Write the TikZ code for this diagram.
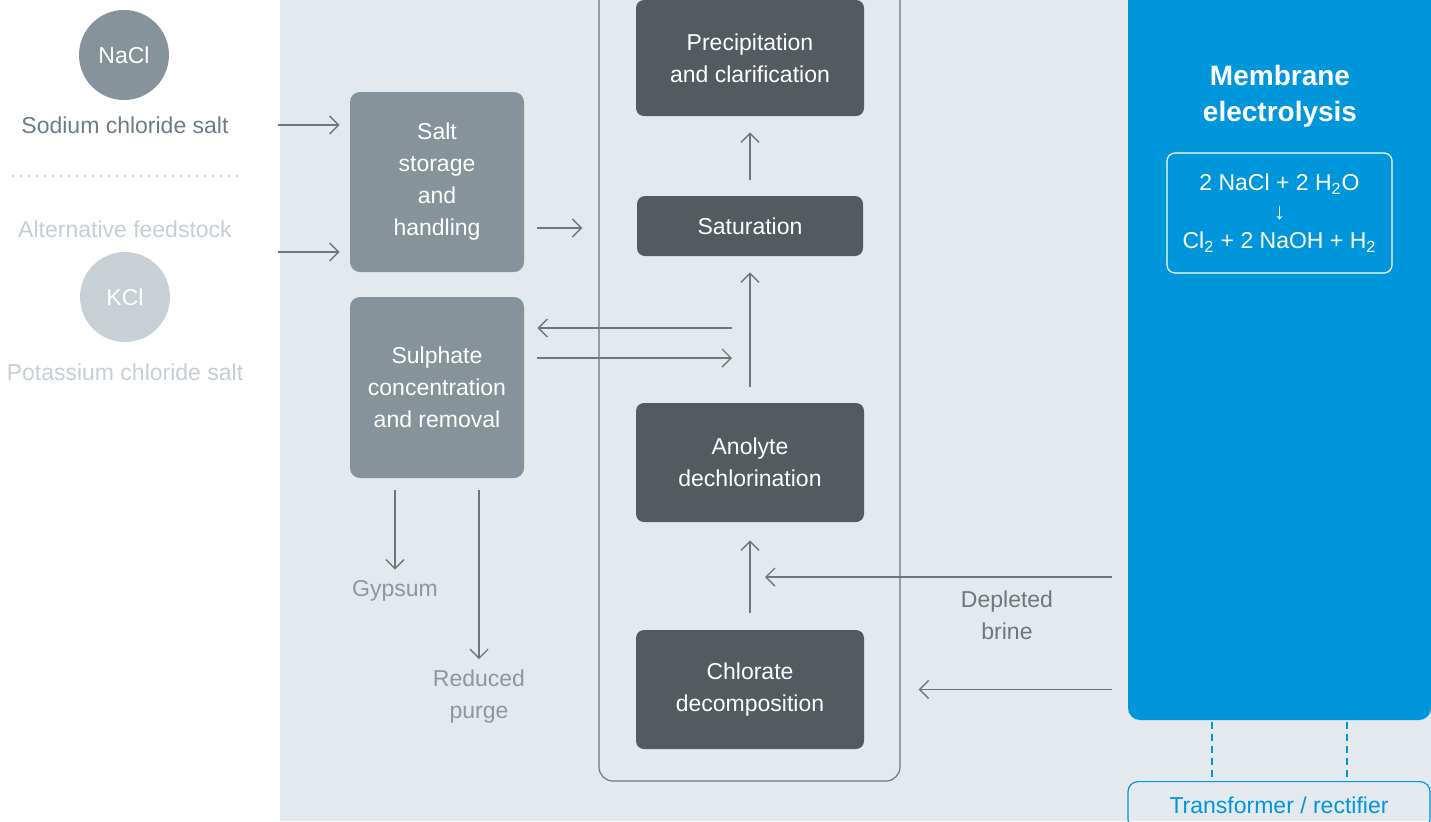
\documentclass[tikz,border=0pt]{standalone}
\usepackage{fontspec}
\setmainfont{Liberation Sans}
\usetikzlibrary{positioning,arrows.meta}

\definecolor{bggray}{HTML}{E4E9ED}
\definecolor{boxlight}{HTML}{87939A}
\definecolor{boxdark}{HTML}{535B61}
\definecolor{linegray}{HTML}{6D777D}
\definecolor{labgray}{HTML}{8C979E}
\definecolor{altgray}{HTML}{C6CED3}
\definecolor{kclgray}{HTML}{C8D0D6}
\definecolor{naclgray}{HTML}{6E7B84}
\definecolor{elblue}{HTML}{0096DB}

\begin{document}
\begin{tikzpicture}[x=0.5pt,y=-0.5pt,font=\fontsize{11.5}{16}\selectfont]
\tikzset{proc/.style={fill=boxdark, rounded corners=4pt, text=white, align=center, minimum width=114pt},
  feedbox/.style={fill=boxlight, rounded corners=5pt, text=white, align=center, minimum width=87pt, minimum height=90pt},
  saltdot/.style={circle, inner sep=0pt, minimum size=45pt, text=white},
  flow/.style={draw=linegray, line width=0.7pt, -{Straight Barb[length=4.5pt,width=9pt]}},
  gap/.style={shorten <=8pt, shorten >=8pt},
  power/.style={draw=elblue, line width=0.8pt, dash pattern=on 3.5pt off 2.5pt}};
   \useasboundingbox (0,0) rectangle (1431,821);
   \fill[bggray] (280,0) rectangle (1431,821);

   % feedstock
   \node[saltdot, fill=boxlight] at (124,55) (nacl) {NaCl};
   \node[text=naclgray] at (125,125) (naclLbl) {Sodium chloride salt};
   \draw[altgray, line width=0.8pt, dash pattern=on 0.8pt off 3.2pt] (12,176) -- (238,176);
   \node[text=altgray] at (125,229) (altLbl) {Alternative feedstock};
   \node[saltdot, fill=kclgray] at (125,297) (kcl) {KCl};
   \node[text=altgray] at (125,372) (kclLbl) {Potassium chloride salt};

   \node[feedbox] at (437,182) (salt) {Salt\\storage\\and\\handling};
   \node[feedbox, minimum height=90.5pt] at (437,387.5) (sulph) {Sulphate\\concentration\\and removal};

   \coordinate (inA) at (278,125);
   \coordinate (inB) at (278,252);
   \draw[flow, shorten >=5pt] (inA) -- (salt.west |- inA);
   \draw[flow, shorten >=5pt] (inB) -- (salt.west |- inB);

   % brine loop
   \node[draw=linegray, line width=0.6pt, rounded corners=7pt, minimum width=150.5pt, minimum height=400.5pt] at (749.5,380.5) (loop) {};
   \node[proc, minimum height=58pt] at (750,58) (prec) {Precipitation\\and clarification};
   \node[proc, minimum width=113pt, minimum height=30pt] at (750,226) (sat) {Saturation};
   \node[proc, minimum height=59.5pt] at (750,462.5) (anol) {Anolyte\\dechlorination};
   \node[proc, minimum height=59.5pt] at (750,689.5) (chlor) {Chlorate\\decomposition};

   \coordinate (feedY) at (0,228);
   \draw[flow, shorten <=6.5pt, shorten >=8pt] (salt.east |- feedY) -- (loop.west |- feedY);
   \draw[flow, gap] (sat) -- (prec);
   \draw[flow, gap] (anol) -- (sat);
   \draw[flow, shorten <=8.5pt, shorten >=9pt] (chlor) -- (anol);

   \coordinate (outY) at (750,328);
   \coordinate (backY) at (750,358);
   \draw[flow, shorten <=9pt, shorten >=6.5pt] (outY) -- (sulph.east |- outY);
   \draw[flow, shorten <=6.5pt, shorten >=9pt] (sulph.east |- backY) -- (backY);

   \node[text=labgray] at (395,591) (gyp) {Gypsum};
   \node[text=labgray, align=center] at (479,697) (purge) {Reduced\\purge};
   \draw[flow, shorten <=6pt, shorten >=2pt] (sulph.south -| gyp) -- (gyp);
   \draw[flow, shorten <=6pt, shorten >=2pt] (sulph.south -| purge) -- (purge);

   % electrolysis
   \node[fill=elblue, rounded corners=6pt, minimum width=151.5pt, minimum height=375pt] at (1279.5,345) (memb) {};
   \node[text=white, align=center, font=\bfseries\fontsize{14}{18}\selectfont] at (1280,96) (title) {Membrane\\electrolysis};
   \node[draw=white, line width=0.6pt, rounded corners=4pt, text=white, align=center, minimum width=112.5pt, minimum height=60pt, font=\fontsize{11.5}{14.5}\selectfont] at (1279.5,213) (react) {2 NaCl + 2 H\textsubscript{2}O\\↓\\Cl\textsubscript{2} + 2 NaOH + H\textsubscript{2}};

   \coordinate (brY) at (0,577);
   \draw[flow, shorten <=8pt, shorten >=7.5pt] (memb.west |- brY) -- (anol.south |- brY);
   \draw[flow, shorten <=8pt, shorten >=9pt] (memb.west |- chlor) -- (loop.east |- chlor);
   \node[text=linegray, align=center] at (1007,615) (brine) {Depleted\\brine};

   \node[draw=elblue, line width=0.6pt, rounded corners=5pt, text=elblue, anchor=north, minimum width=151pt, minimum height=24pt] at (1279,781) (trafo) {Transformer / rectifier};
   \coordinate (dA) at (1212,0);
   \coordinate (dB) at (1347,0);
   \draw[power, shorten <=1pt, shorten >=1.5pt] (memb.south -| dA) -- (trafo.north -| dA);
   \draw[power, shorten <=1pt, shorten >=1.5pt] (memb.south -| dB) -- (trafo.north -| dB);
 \end{tikzpicture}
\end{document}
